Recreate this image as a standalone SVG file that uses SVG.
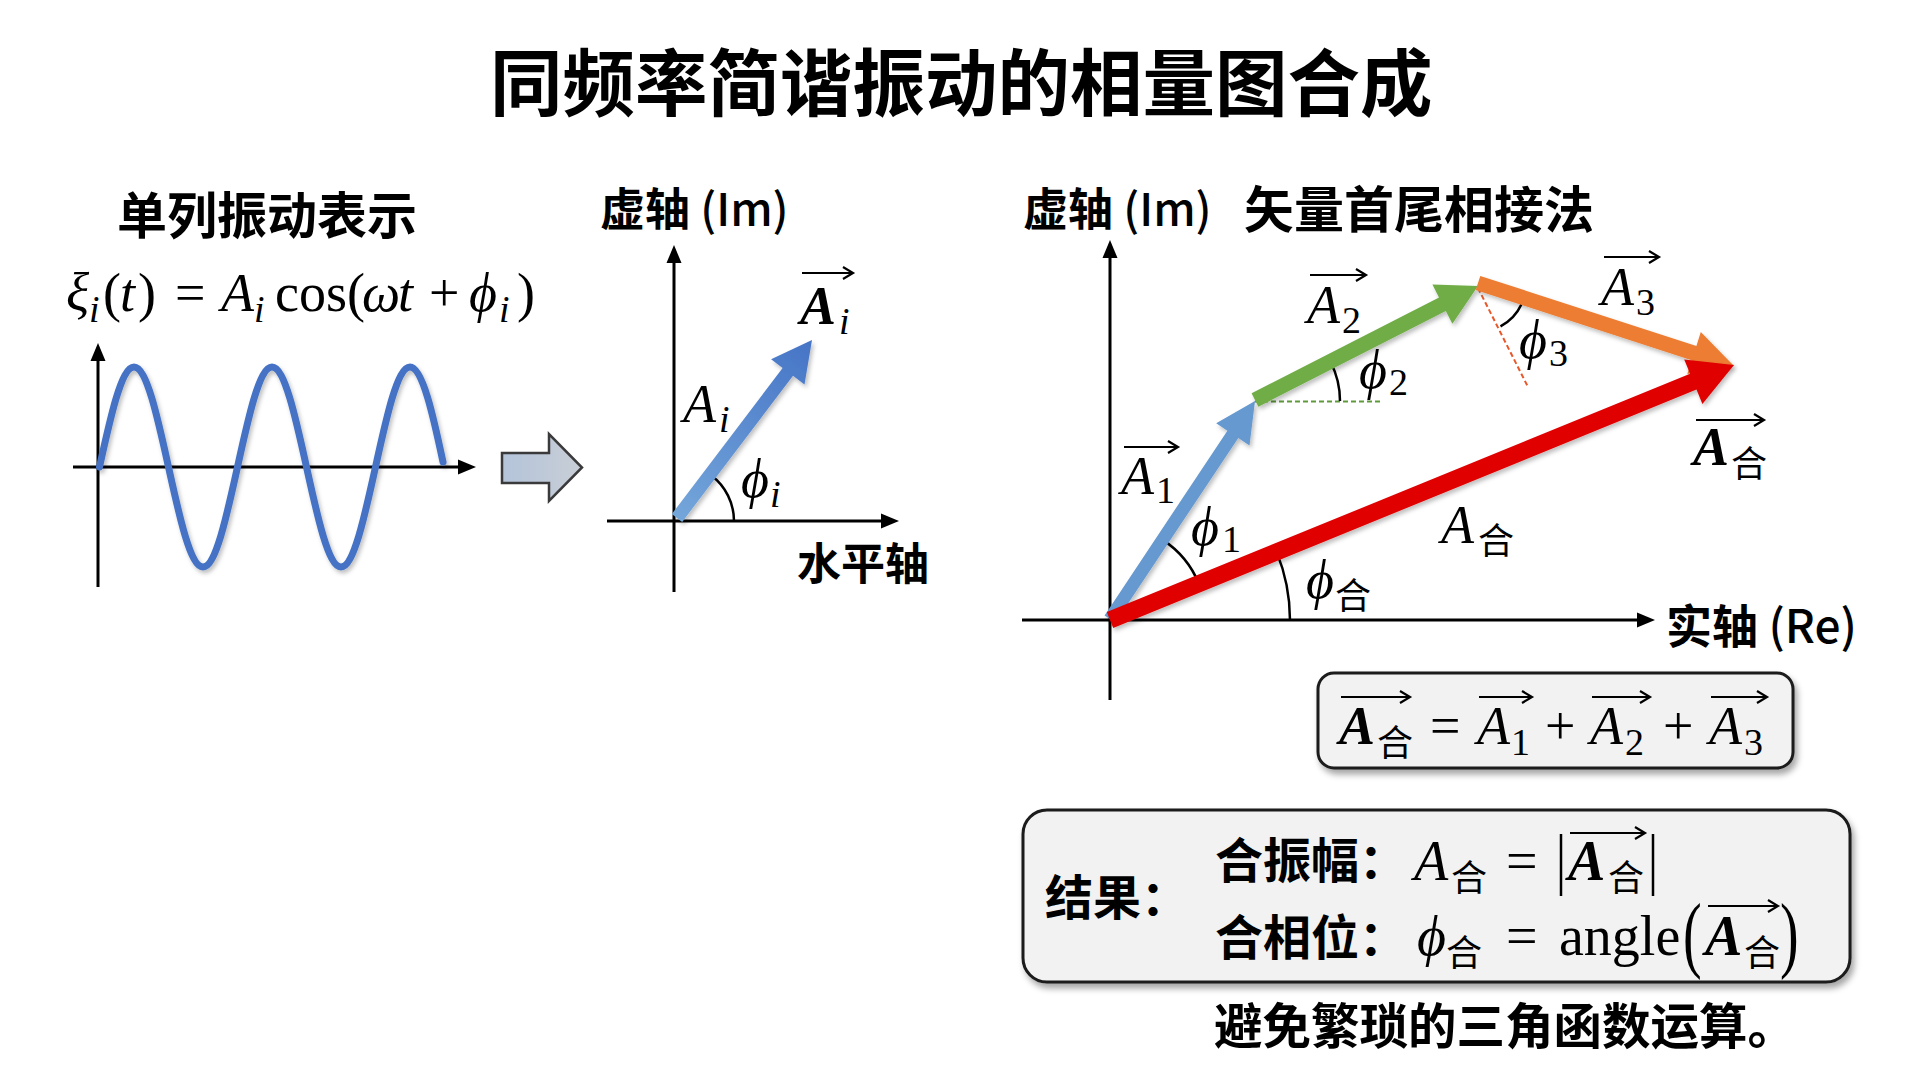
<svg xmlns="http://www.w3.org/2000/svg" width="1920" height="1072" viewBox="0 0 1920 1072">
<defs>
<style>
.cjk{font-family:"Noto Sans CJK SC","Noto Sans",sans-serif;font-weight:bold;fill:#000}
.cjkr{font-family:"Noto Sans CJK SC","Noto Sans",sans-serif;font-weight:normal;fill:#000}
.lat{font-weight:500}
.m{font-family:"Liberation Serif","DejaVu Serif",serif;fill:#000}
.mi{font-family:"Liberation Serif","DejaVu Serif",serif;font-style:italic;fill:#000}
.mb{font-family:"Liberation Serif","DejaVu Serif",serif;font-style:italic;font-weight:bold;fill:#000}
.axis{stroke:#000;stroke-width:3;fill:none;marker-end:url(#ah)}
.arc{stroke:#000;stroke-width:2.5;fill:none}
.hat{stroke:#000;stroke-width:2.2;fill:none;marker-end:url(#hat)}
.box{fill:#f2f2f2;stroke:#1a1a1a;stroke-width:3;filter:url(#sh)}
</style>
<marker id="ah" markerUnits="userSpaceOnUse" markerWidth="30" markerHeight="30" refX="8" refY="0" orient="auto" overflow="visible">
<path d="M0,-7.5 L18,0 L0,7.5 z" fill="#000"/>
</marker>
<marker id="hat" markerUnits="userSpaceOnUse" markerWidth="20" markerHeight="20" refX="0" refY="0" orient="auto" overflow="visible">
<path d="M-10,-6 L0,0 L-10,6" fill="none" stroke="#000" stroke-width="2.2"/>
</marker>
<filter id="sh" x="-10%" y="-10%" width="120%" height="130%">
<feDropShadow dx="3" dy="5" stdDeviation="3" flood-color="#000" flood-opacity="0.35"/>
</filter>
<filter id="ash" x="-10%" y="-10%" width="120%" height="120%">
<feDropShadow dx="2" dy="3" stdDeviation="2" flood-color="#000" flood-opacity="0.25"/>
</filter>
<linearGradient id="gi" gradientUnits="userSpaceOnUse" x1="677" y1="518" x2="812" y2="340">
<stop offset="0" stop-color="#74a6da"/>
<stop offset="1" stop-color="#4674c6"/>
</linearGradient>
<linearGradient id="gb" x1="0" y1="0" x2="1" y2="0">
<stop offset="0" stop-color="#b4c4da"/>
<stop offset="1" stop-color="#c8ced6"/>
</linearGradient>
</defs>
<rect width="1920" height="1072" fill="#fff"/>

<g id="title">
<text class="cjk" x="490" y="110" font-size="72.5">同频率简谐振动的相量图合成</text>
</g>

<g id="single">
<text class="cjk" x="117" y="234" font-size="50">单列振动表示</text>
<text font-size="54">
<tspan class="mi" x="66" y="311">ξ</tspan><tspan class="mi" x="89" y="322" font-size="38">i</tspan><tspan class="m" x="103" y="311">(</tspan><tspan class="mi" x="120" y="311">t</tspan><tspan class="m" x="138" y="311">)</tspan><tspan class="m" x="175" y="311">=</tspan><tspan class="mi" x="221" y="311">A</tspan><tspan class="mi" x="254" y="322" font-size="38">i</tspan><tspan class="m" x="275" y="311">cos(</tspan><tspan class="mi" x="362" y="311">ω</tspan><tspan class="mi" x="398" y="311">t</tspan><tspan class="m" x="429" y="311">+</tspan><tspan class="mi" x="469" y="311">ϕ</tspan><tspan class="mi" x="499" y="322" font-size="38">i</tspan><tspan class="m" x="517" y="311">)</tspan>
</text>
<line class="axis" x1="98" y1="587" x2="98" y2="353"/>
<line class="axis" x1="73" y1="467" x2="466" y2="467"/>
<path d="M99.5,467 C110.75,415.77 121.51,367 134,367 S157.25,415.77 168.5,467 S190.51,567 203,567 S226.25,518.23 237.5,467 S259.51,367 272,367 S295.25,415.77 306.5,467 S328.51,567 341,567 S364.25,518.23 375.5,467 S397.51,367 410,367 S433.25,415.77 443,462" fill="none" stroke="#4472c4" stroke-width="7" stroke-linecap="round" filter="url(#ash)"/>
</g>

<g id="transform-arrow">
<polygon points="502,453 549,453 549,434 582,467.5 549,501 549,483 502,483" fill="url(#gb)" stroke="#3a3a3a" stroke-width="2.5" stroke-linejoin="miter"/>
</g>

<g id="phasor-single">
<text class="cjk" x="600" y="226" font-size="45">虚轴 <tspan class="lat">(Im)</tspan></text>
<line class="axis" x1="674" y1="592" x2="674" y2="255"/>
<line class="axis" x1="607" y1="521" x2="889" y2="521"/>
<path class="arc" d="M711.4,475.6 A57,57 0 0 1 734,521"/>
<polygon points="682.2,521.9 793.0,375.8 804.5,384.6 812,340 771.1,359.2 782.6,368.0 671.8,514.1" fill="url(#gi)" filter="url(#ash)"/>
<line class="hat" x1="802" y1="273" x2="853" y2="273"/>
<text class="mb" x="800" y="324" font-size="54">A</text>
<text class="mi" x="839" y="334" font-size="38">i</text>
<text class="mi" x="683" y="422" font-size="54">A</text>
<text class="mi" x="719" y="432" font-size="38">i</text>
<text class="mi" x="741" y="497" font-size="54">ϕ</text>
<text class="mi" x="770" y="507" font-size="38">i</text>
<text class="cjk" x="797" y="580" font-size="44">水平轴</text>
</g>

<g id="phasor-sum">
<text class="cjk" x="1023" y="226" font-size="45">虚轴 <tspan class="lat">(Im)</tspan></text>
<text class="cjk" x="1244" y="228" font-size="50">矢量首尾相接法</text>
<line class="axis" x1="1110" y1="700" x2="1110" y2="250"/>
<line class="axis" x1="1022" y1="620" x2="1645" y2="620"/>
<text class="cjk" x="1666" y="643" font-size="46">实轴 <tspan class="lat">(Re)</tspan></text>
<line x1="1255" y1="401.5" x2="1382" y2="401.5" stroke="#5e9a3a" stroke-width="2" stroke-dasharray="5,3"/>
<line x1="1478" y1="288" x2="1528" y2="387" stroke="#e8582a" stroke-width="2" stroke-dasharray="5,3"/>
<path class="arc" d="M1163.2,540.1 A96,96 0 0 1 1198.9,583.7"/>
<path class="arc" d="M1276.6,551.9 A180,180 0 0 1 1290,620"/>
<path class="arc" d="M1330.7,362.3 A85,85 0 0 1 1340,401"/>
<path class="arc" d="M1521.5,304.3 A48,48 0 0 1 1500.5,326.4"/>
</g>

<g id="vec-A1">
<polygon points="1115.4,622.6 1238.3,437.9 1249.5,445.4 1255,401 1216.2,423.2 1227.4,430.7 1104.6,615.4" fill="#6699d0" filter="url(#ash)"/>
</g>
<g id="vec-A2">
<polygon points="1258.4,406.7 1445.8,310.9 1452.4,323.8 1478,286 1432.4,284.6 1439.0,297.5 1251.6,393.3" fill="#70ad47" filter="url(#ash)"/>
</g>
<g id="vec-A3">
<polygon points="1475.7,290.1 1691.7,360.2 1687.3,374.0 1734,366 1700.8,332.1 1696.4,345.9 1480.3,275.9" fill="#ed7d31" filter="url(#ash)"/>
</g>
<g id="vec-Asum">
<polygon points="1113.2,627.9 1696.5,389.5 1702.4,403.9 1734,365 1684.2,359.4 1690.1,373.8 1106.8,612.1" fill="#e00000" filter="url(#ash)"/>
</g>

<g id="labels-sum">
<line class="hat" x1="1124" y1="447" x2="1178" y2="447"/>
<text class="mi" x="1121" y="494" font-size="54">A</text>
<text class="m" x="1156" y="503" font-size="38">1</text>
<line class="hat" x1="1310" y1="275" x2="1366" y2="275"/>
<text class="mi" x="1307" y="323" font-size="54">A</text>
<text class="m" x="1342" y="333" font-size="38">2</text>
<line class="hat" x1="1604" y1="257" x2="1659" y2="257"/>
<text class="mi" x="1601" y="305" font-size="54">A</text>
<text class="m" x="1636" y="315" font-size="38">3</text>
<line class="hat" x1="1696" y1="420" x2="1764" y2="420"/>
<text class="mb" x="1693" y="465" font-size="54">A</text>
<text class="cjkr" x="1731" y="477" font-size="36">合</text>
<text class="mi" x="1191" y="545" font-size="54">ϕ</text>
<text class="m" x="1222" y="552" font-size="38">1</text>
<text class="mi" x="1359" y="388" font-size="54">ϕ</text>
<text class="m" x="1389" y="395" font-size="38">2</text>
<text class="mi" x="1519" y="358" font-size="54">ϕ</text>
<text class="m" x="1549" y="366" font-size="38">3</text>
<text class="mi" x="1441" y="543" font-size="54">A</text>
<text class="cjkr" x="1478" y="554" font-size="36">合</text>
<text class="mi" x="1306" y="598" font-size="54">ϕ</text>
<text class="cjkr" x="1335" y="609" font-size="36">合</text>
</g>

<g id="sum-formula">
<rect class="box" x="1318" y="673" width="475" height="95" rx="16"/>
<line class="hat" x1="1341" y1="697" x2="1410" y2="697"/>
<text class="mb" x="1339" y="744" font-size="54">A</text>
<text class="cjkr" x="1377" y="756" font-size="36">合</text>
<text class="m" x="1430" y="744" font-size="54">=</text>
<line class="hat" x1="1479" y1="697" x2="1532" y2="697"/>
<text class="mi" x="1477" y="744" font-size="54">A</text>
<text class="m" x="1511" y="755" font-size="38">1</text>
<text class="m" x="1545" y="744" font-size="54">+</text>
<line class="hat" x1="1592" y1="697" x2="1650" y2="697"/>
<text class="mi" x="1590" y="744" font-size="54">A</text>
<text class="m" x="1625" y="755" font-size="38">2</text>
<text class="m" x="1663" y="744" font-size="54">+</text>
<line class="hat" x1="1711" y1="697" x2="1767" y2="697"/>
<text class="mi" x="1709" y="744" font-size="54">A</text>
<text class="m" x="1744" y="755" font-size="38">3</text>
</g>

<g id="result">
<rect class="box" x="1023" y="810" width="827" height="172" rx="24"/>
<text class="cjk" x="1045" y="915" font-size="48">结果：</text>
<text class="cjk" x="1215" y="878" font-size="48">合振幅：</text>
<text class="cjk" x="1215" y="955" font-size="48">合相位：</text>
<text class="mi" x="1414" y="880" font-size="56">A</text>
<text class="cjkr" x="1451" y="891" font-size="36">合</text>
<text class="m" x="1506" y="880" font-size="56">=</text>
<line x1="1561" y1="834" x2="1561" y2="896" stroke="#000" stroke-width="2.5"/>
<line class="hat" x1="1570" y1="833" x2="1645" y2="833"/>
<text class="mb" x="1568" y="880" font-size="56">A</text>
<text class="cjkr" x="1608" y="891" font-size="36">合</text>
<line x1="1653" y1="834" x2="1653" y2="896" stroke="#000" stroke-width="2.5"/>
<text class="mi" x="1417" y="955" font-size="56">ϕ</text>
<text class="cjkr" x="1446" y="966" font-size="36">合</text>
<text class="m" x="1506" y="955" font-size="56">=</text>
<text class="m" x="1559" y="955" font-size="56">angle</text>
<text class="m" font-size="56" transform="translate(1683,962) scale(1,1.5)">(</text>
<line class="hat" x1="1708" y1="906" x2="1778" y2="906"/>
<text class="mb" x="1705" y="955" font-size="56">A</text>
<text class="cjkr" x="1744" y="966" font-size="36">合</text>
<text class="m" font-size="56" transform="translate(1780,962) scale(1,1.5)">)</text>
<text class="cjk" x="1214" y="1044" font-size="48.5">避免繁琐的三角函数运算。</text>
</g>
</svg>
